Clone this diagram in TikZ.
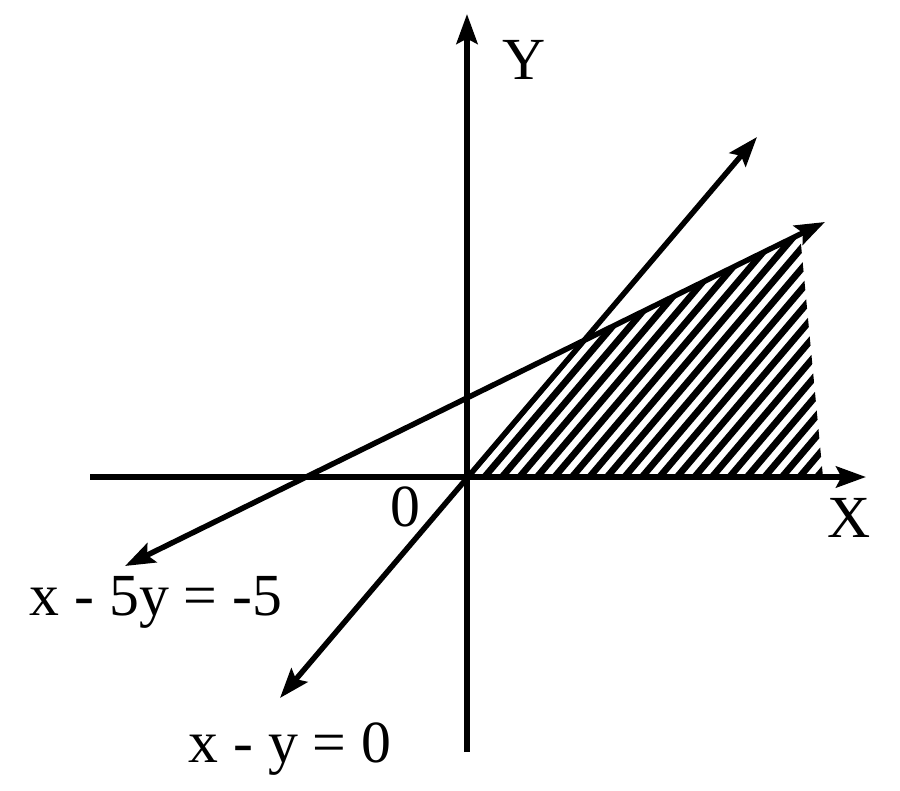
\documentclass[tikz,border=0pt]{standalone}
\usepackage{fontspec}
\setmainfont{Liberation Serif}
\usetikzlibrary{arrows.meta}

\begin{document}
\begin{tikzpicture}[
            x = 0.02cm, y = -0.02cm,
            axis/.style = { line width = 3.1pt, -{Stealth[length = 17pt, width = 12pt, inset = 3pt]} },
            bound/.style = { line width = 3.1pt, {Stealth[length = 17pt, width = 12pt, inset = 3pt]}-{Stealth[length = 17pt, width = 12pt, inset = 3pt]} },
            hatch/.style = { line width = 3.8pt },
            lbl/.style = { font = \fontsize{34}{40}\selectfont, inner sep = 0pt, anchor = base },
            ]
            \useasboundingbox (0,0) rectangle (900,791);

            % axes
            \coordinate (O) at (467,477);
            \coordinate (Xstart) at (90,477);
            \coordinate (Xend) at (866,477);
            \coordinate (Ystart) at (467,752);
            \coordinate (Yend) at (467,14);

            % x - y = 0 and x - 5y = -5
            \coordinate (AlowEnd) at (280,698);
            \coordinate (AhighEnd) at (757,137);
            \coordinate (BlowEnd) at (125,566);
            \coordinate (BhighEnd) at (825,222);

            % corners of the shaded region
            \coordinate (P) at (intersection of AlowEnd--AhighEnd and BlowEnd--BhighEnd);
            \coordinate (Q) at (intersection of BlowEnd--BhighEnd and 800,0--800,791);
            \coordinate (R) at (823,477);

            \begin{scope}
            \clip (O) -- (P) -- (Q) -- (R) -- cycle;
            \foreach \k in {0,...,21}
                \draw[hatch] (467+17.5*\k,477) -- ++(300,-353);
            \end{scope}

            \draw[axis] (Xstart) -- (Xend);
            \draw[axis] (Ystart) -- (Yend);

            \draw[bound] (AlowEnd) -- (AhighEnd);
            \draw[bound] (BlowEnd) -- (BhighEnd);

            \node[lbl] (labY) at (524,79) {Y};
            \node[lbl] (labX) at (849,537) {X};
            \node[lbl] (labO) at (405,526) {0};
            \node[lbl] (labB) at (156,615) {x - 5y = -5};
            \node[lbl] (labA) at (290,762) {x - y = 0};

            \end{tikzpicture}
\end{document}
